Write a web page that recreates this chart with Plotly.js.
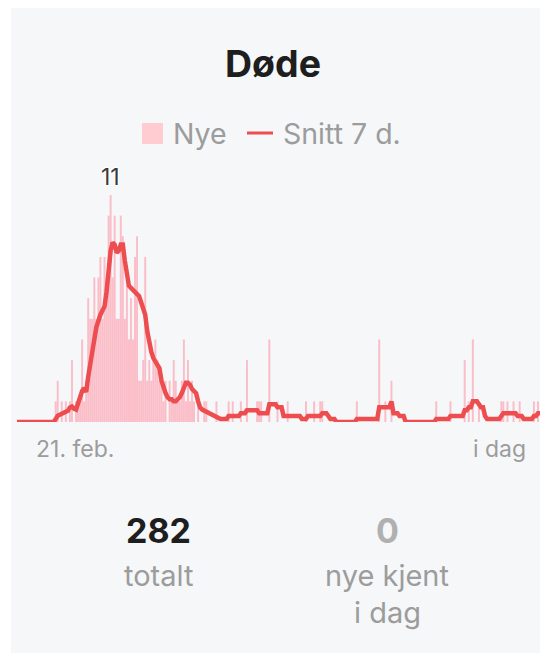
<!DOCTYPE html>
<html>
<head>
<meta charset="utf-8">
<script src="https://cdn.plot.ly/plotly-3.0.1.min.js"></script>
<style>
  html, body { margin: 0; padding: 0; background: #ffffff; }
  #plot { width: 540px; height: 654px; }
</style>
</head>
<body>
<div id="plot"></div>
<script>
// Dødsfall per dag fra 21. feb. til i dag (én verdi per dag)
const nye = [
  0,0,0,0,0,0,0,0,0,0,
  0,0,0,0,0,0,0,0,0,1,
  2,0,1,0,1,0,1,3,0,1,
  1,1,4,1,2,6,5,5,7,5,
  7,8,5,8,7,10,11,7,10,5,
  5,10,9,5,7,4,6,4,8,9,
  2,2,3,8,2,3,2,3,4,3,
  2,2,1,2,0,2,1,3,2,1,
  1,2,4,1,3,1,2,1,0,1,
  0,0,1,1,0,0,0,0,1,0,
  0,0,0,0,1,0,1,0,0,0,
  1,0,0,3,0,0,0,0,1,1,
  1,0,0,0,4,0,0,0,1,0,
  0,0,0,1,0,0,0,0,0,0,
  0,0,1,0,0,0,1,0,0,1,
  1,0,0,0,0,0,0,0,0,0,
  0,0,0,0,0,0,0,1,0,0,
  0,0,0,0,0,0,0,0,4,0,
  0,1,0,0,2,0,0,0,0,0,
  0,0,0,0,0,0,0,0,0,0,
  0,0,0,0,0,0,1,0,0,0,
  0,0,0,1,0,0,0,0,0,0,
  3,0,1,0,4,0,0,1,0,0,
  0,0,0,0,0,0,0,0,1,1,
  0,1,0,0,1,0,0,1,0,0,
  0,0,0,0,1,0,1,0
];

// Snitt siste 7 dager, lest av kurven
const snitt7 = [
  0,0,0,0,0,0,0,0,0,0,
  0,0,0,0,0,0,0,0,0,0.14,
  0.3,0.35,0.4,0.43,0.45,0.55,0.7,0.75,0.65,0.6,
  0.9,1.3,1.5,1.65,1.45,2.2,2.9,3.4,4.0,4.6,
  5.0,5.2,5.4,5.6,6.3,7.3,8.3,8.7,8.6,8.2,
  8.3,8.6,8.6,7.8,7.0,6.6,6.5,6.4,6.3,6.2,
  6.1,5.8,5.5,5.2,4.4,3.8,3.4,3.1,2.9,2.8,
  2.6,2.0,1.6,1.4,1.2,1.1,1.1,1.0,1.0,1.1,
  1.2,1.4,1.7,1.9,1.9,1.8,1.6,1.5,1.4,1.0,
  0.7,0.6,0.55,0.5,0.45,0.4,0.35,0.3,0.25,0.14,
  0.14,0.14,0.14,0.14,0.29,0.29,0.29,0.29,0.29,0.29,
  0.43,0.43,0.43,0.57,0.57,0.57,0.57,0.57,0.57,0.43,
  0.43,0.43,0.43,0.43,0.86,0.86,0.86,0.86,0.71,0.71,
  0.71,0.29,0.29,0.29,0.29,0.29,0.29,0.29,0.29,0.29,
  0.14,0.14,0.14,0.29,0.29,0.29,0.29,0.29,0.29,0.29,
  0.43,0.43,0.43,0.29,0.14,0.14,0.14,0,0,0,
  0,0,0,0,0,0,0,0.14,0.14,0.14,
  0.14,0.14,0.14,0.14,0.14,0.14,0.14,0.14,0.71,0.71,
  0.71,0.71,0.71,0.71,1.0,0.43,0.43,0.43,0.29,0.29,
  0.29,0,0,0,0,0,0,0,0,0,
  0,0,0,0,0,0,0.14,0.14,0.14,0.14,
  0.14,0.14,0.14,0.29,0.29,0.29,0.29,0.29,0.29,0.29,
  0.57,0.57,0.71,0.71,1.0,1.0,1.0,0.86,0.71,0.71,
  0.29,0.14,0.14,0.14,0.14,0.14,0.14,0.14,0.29,0.43,
  0.43,0.43,0.43,0.43,0.43,0.43,0.29,0.29,0.29,0.14,
  0.14,0.14,0.14,0.14,0.29,0.29,0.43,0.43
];

const tittel = "Døde";
const serieNavn = ["Nye", "Snitt 7 d."];
const aksetekst = ["21. feb.", "i dag"];
const totalt = 282;
const nyeIdag = 0;

const dager = nye.map((_, i) => i);
const maks = Math.max(...nye);
const maksDag = nye.indexOf(maks);

// plottområde i piksler
const W = 540, H = 654;
const L = 17, R = 540, T = 195, B = 422;
const px = x => (x - L) / (R - L);
const py = y => (B - y) / (B - T);

const font = "Inter, 'Noto Sans', sans-serif";
const grå = "#9c9c9c";

const bars = {
  x: dager,
  y: nye,
  type: "bar",
  marker: { color: "rgba(255,150,165,0.6)", line: { width: 0 } },
  name: serieNavn[0],
  hoverinfo: "skip"
};

const linje = {
  x: dager,
  y: snitt7,
  type: "scatter",
  mode: "lines",
  line: { color: "#ee4d4f", width: 4.5 },
  name: serieNavn[1],
  hoverinfo: "skip"
};

const tekst = (text, x, y, size, color, anchor, bold) => ({
  text: bold ? "<b>" + text + "</b>" : text,
  xref: "paper", yref: "paper",
  x: px(x), y: py(y),
  xanchor: anchor || "center", yanchor: "middle",
  showarrow: false,
  font: { family: font, size: size, color: color }
});

const layout = {
  width: W,
  height: H,
  margin: { l: L, r: W - R, t: T, b: H - B, pad: 0 },
  paper_bgcolor: "#ffffff",
  plot_bgcolor: "rgba(0,0,0,0)",
  showlegend: false,
  bargap: 0.05,
  title: {
    text: "<b>" + tittel + "</b>",
    xref: "container", yref: "container",
    x: 273 / W, y: 1 - 64 / H,
    xanchor: "center", yanchor: "middle",
    font: { family: font, size: 37.5, color: "#1e1e1e" }
  },
  xaxis: {
    range: [0, nye.length - 1],
    showgrid: false, zeroline: false, showline: false,
    showticklabels: false, ticks: "", fixedrange: true
  },
  yaxis: {
    range: [0, maks],
    showgrid: false, zeroline: false, showline: false,
    showticklabels: false, ticks: "", fixedrange: true
  },
  shapes: [
    // kortbakgrunn
    { type: "rect", xref: "paper", yref: "paper", layer: "below",
      x0: px(11), x1: px(560), y0: py(653), y1: py(8),
      fillcolor: "#f5f7f9", line: { width: 0 } },
    // legende: rute og strek
    { type: "rect", xref: "paper", yref: "paper",
      x0: px(142), x1: px(163), y0: py(144), y1: py(123),
      fillcolor: "#ffccd2", line: { width: 0 } },
    { type: "line", xref: "paper", yref: "paper",
      x0: px(247), x1: px(273), y0: py(133), y1: py(133),
      line: { color: "#ee4d4f", width: 3 } }
  ],
  annotations: [
    tekst(serieNavn[0], 171, 134, 28.5, grå, "left"),
    tekst(serieNavn[1], 281, 134, 28.5, grå, "left"),
    {
      text: String(maks),
      x: maksDag, y: maks, xref: "x", yref: "y",
      xanchor: "center", yanchor: "bottom", yshift: 2,
      showarrow: false,
      font: { family: font, size: 23, color: "#3a3a3a",
               shadow: "1px 1px 1px #fff, -1px -1px 1px #fff, 1px -1px 1px #fff, -1px 1px 1px #fff" }
    },
    tekst(aksetekst[0], 34, 449, 23, grå, "left"),
    tekst(aksetekst[1], 528, 449, 23, grå, "right"),
    tekst(String(totalt), 158, 530, 34, "#1e1e1e", "center", true),
    tekst("totalt", 158, 575, 29, grå),
    tekst(String(nyeIdag), 387, 530, 34, "#b0b0b0", "center", true),
    tekst("nye kjent", 387, 575, 29, grå),
    tekst("i dag", 387, 612, 29, grå)
  ]
};

Plotly.newPlot("plot", [bars, linje], layout, { staticPlot: true, displayModeBar: false });
</script>
</body>
</html>
